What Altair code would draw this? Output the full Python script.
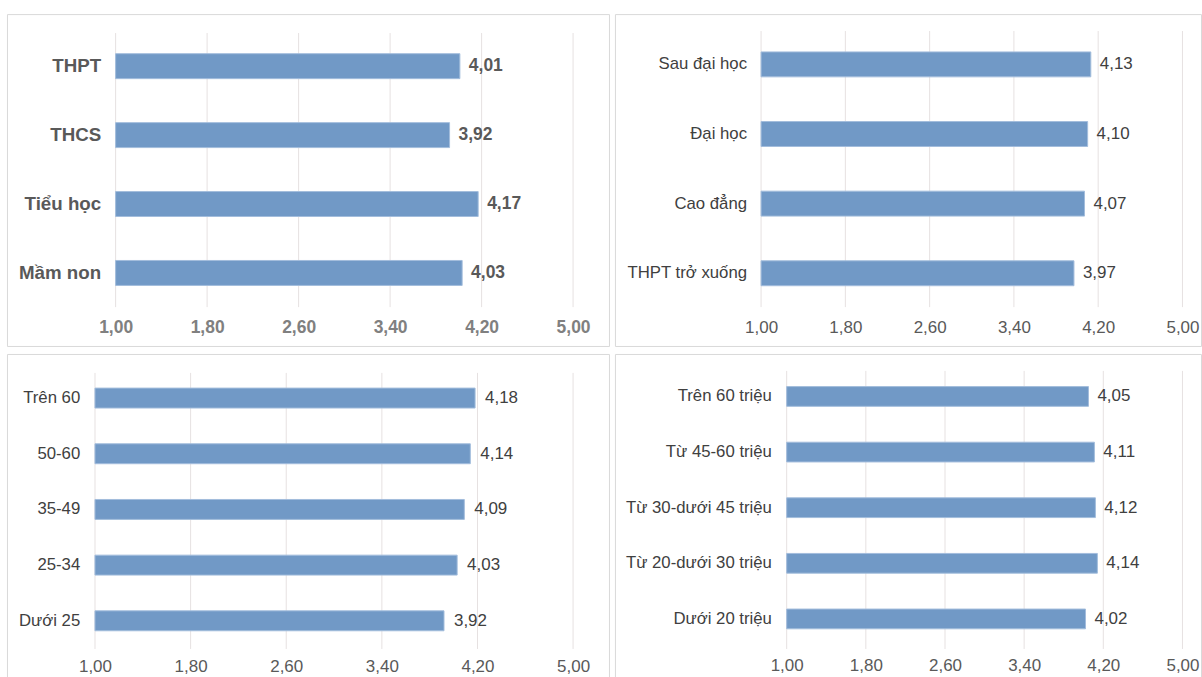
import altair as alt
import pandas as pd

# Mean scores by group (scale 1-5)
edu_levels = ["THPT", "THCS", "Tiểu học", "Mầm non"]
edu_scores = [4.01, 3.92, 4.17, 4.03]

degree_levels = ["Sau đại học", "Đại học", "Cao đẳng", "THPT trở xuống"]
degree_scores = [4.13, 4.10, 4.07, 3.97]

age_groups = ["Trên 60", "50-60", "35-49", "25-34", "Dưới 25"]
age_scores = [4.18, 4.14, 4.09, 4.03, 3.92]

income_groups = ["Trên 60 triệu", "Từ 45-60 triệu", "Từ 30-dưới 45 triệu",
                 "Từ 20-dưới 30 triệu", "Dưới 20 triệu"]
income_scores = [4.05, 4.11, 4.12, 4.14, 4.02]

tick_values = [1.0, 1.8, 2.6, 3.4, 4.2, 5.0]

FONT = "Liberation Sans"
BAR_FILL = "#7199c6"
BAR_EDGE = "#a3bddc"
GRID = "#e6e1e1"
LABEL_EXPR = "replace(format(datum.value, '.2f'), '.', ',')"


def panel(cats, vals, w, h, x_range, y_range, pad_inner, grid_y, cat_right,
          tick_y, dx, bold):
    df = pd.DataFrame({
        "cat": cats,
        "val": vals,
        "label": [f"{v:.2f}".replace(".", ",") for v in vals],
    })
    ticks = pd.DataFrame({"t": tick_values})

    weight = "bold" if bold else "normal"
    cat_size = 18.8 if bold else 16.8
    val_size = 17.5 if bold else 17
    tick_size = 17.5 if bold else 17
    cat_color = "#595959" if bold else "#404040"
    val_color = "#595959" if bold else "#404040"
    tick_color = "#808080" if bold else "#595959"

    x_scale = alt.Scale(domain=[1, 5], range=x_range, nice=False, zero=False)
    y_scale = alt.Scale(domain=cats, range=y_range,
                        paddingInner=pad_inner, paddingOuter=0.3)

    # axes sit inside the framed view: labels pulled in with negative offsets
    x_axis = alt.Axis(
        title=None, values=tick_values, labelExpr=LABEL_EXPR,
        domain=False, ticks=False, tickSize=0, grid=False,
        labelPadding=0, labelBaseline="middle", offset=tick_y - h,
        labelFlush=False, labelOverlap=False,
        labelFont=FONT, labelFontSize=tick_size, labelFontWeight=weight,
        labelColor=tick_color)
    y_axis = alt.Axis(
        title=None, domain=False, ticks=False, tickSize=0, grid=False,
        labelPadding=0, offset=-cat_right, labelLimit=0,
        labelFont=FONT, labelFontSize=cat_size, labelFontWeight=weight,
        labelColor=cat_color)

    gridlines = alt.Chart(ticks).mark_rule(color=GRID, strokeWidth=1).encode(
        x=alt.X("t:Q", scale=x_scale, axis=x_axis),
        y=alt.value(grid_y[0]),
        y2=alt.value(grid_y[1]),
    )

    bars = alt.Chart(df).mark_bar(
        fill=BAR_FILL, stroke=BAR_EDGE, strokeWidth=1
    ).encode(
        x=alt.X("val:Q", scale=x_scale, axis=x_axis),
        x2=alt.datum(1.0),
        y=alt.Y("cat:N", scale=y_scale, sort=cats, axis=y_axis),
    )

    values = alt.Chart(df).mark_text(
        align="left", baseline="middle", dx=dx, font=FONT,
        fontSize=val_size, fontWeight=weight, color=val_color
    ).encode(
        x=alt.X("val:Q", scale=x_scale, axis=x_axis),
        y=alt.Y("cat:N", scale=y_scale, sort=cats, axis=y_axis),
        text="label:N",
    )

    return alt.layer(gridlines, bars, values).properties(width=w, height=h)


p_edu = panel(edu_levels, edu_scores, 604, 333, [109, 568], [19, 293], 0.638,
              [19, 294], 94, 314, 9, True)
p_degree = panel(degree_levels, degree_scores, 588, 333, [146.6, 569.4],
                 [17, 293.5], 0.642, [17, 294], 132, 314, 9, False)
p_age = panel(age_groups, age_scores, 604, 326, [88.3, 568], [17.5, 294.5],
              0.642, [19, 296], 73, 314, 10, False)
p_income = panel(income_groups, income_scores, 588, 326, [172.3, 569.4],
                 [16, 292.5], 0.645, [17, 296], 157, 313, 9, False)

chart = alt.vconcat(
    alt.hconcat(p_edu, p_degree, spacing=4),
    alt.hconcat(p_age, p_income, spacing=4),
    spacing=6,
).properties(
    padding={"left": 6, "top": 12, "right": 0, "bottom": 0},
    background="white",
).configure_view(
    stroke="#d9d9d9", strokeWidth=1
)

chart.save("out.html", embed_options={"renderer": "svg", "actions": False})
